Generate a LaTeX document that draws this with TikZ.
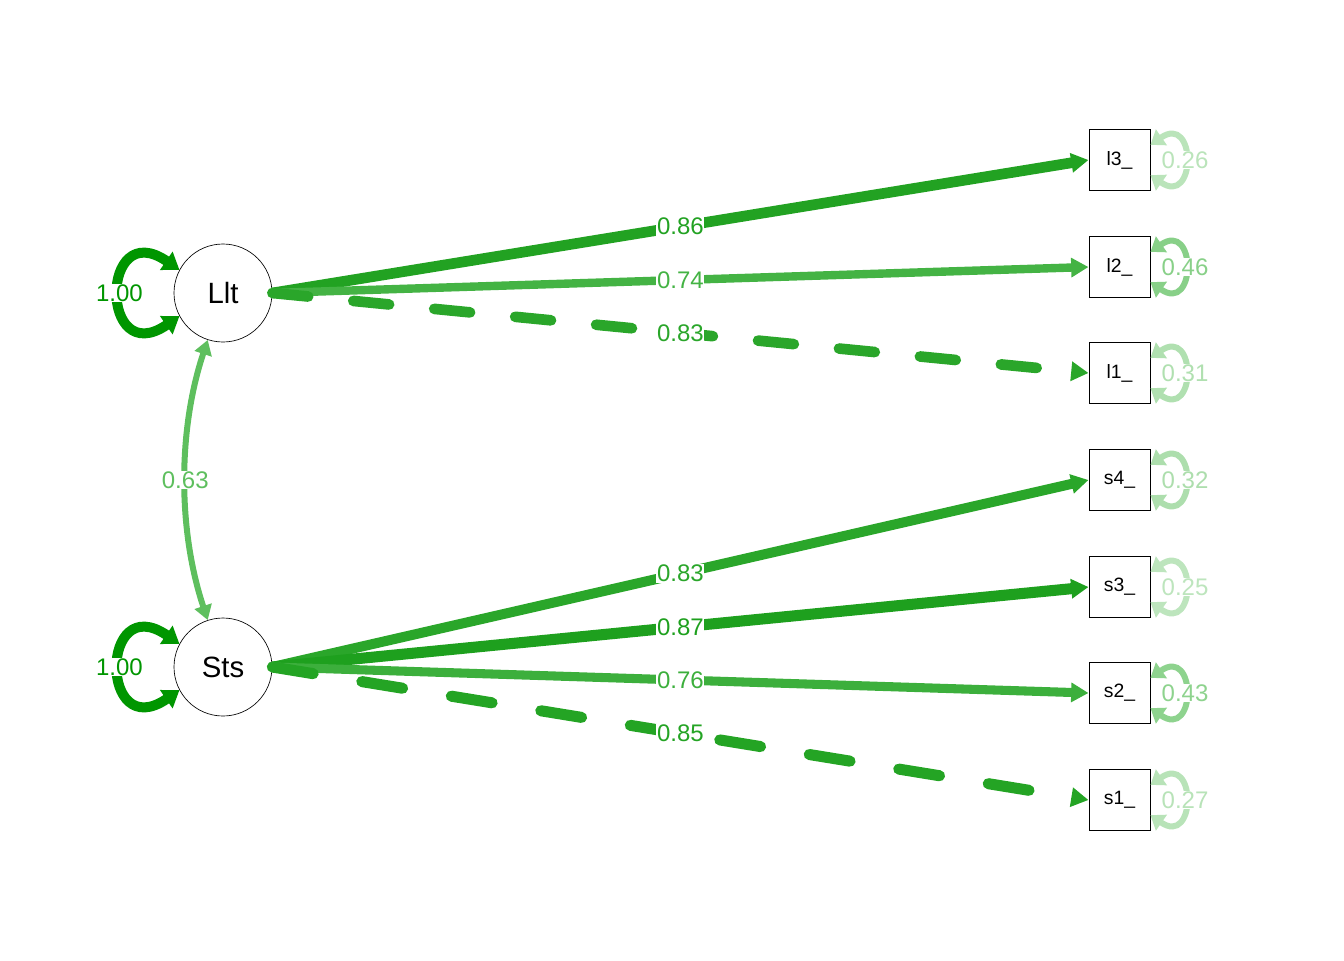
\documentclass[tikz,border=0pt]{standalone}
\usepackage{fontspec}
\setmainfont{Liberation Sans}
\usetikzlibrary{arrows.meta,positioning}

\definecolor{c100}{RGB}{0,150,0}
\definecolor{c87}{RGB}{30,160,30}
\definecolor{c86}{RGB}{34,162,34}
\definecolor{c85}{RGB}{36,164,36}
\definecolor{c83}{RGB}{42,166,42}
\definecolor{c76}{RGB}{60,175,60}
\definecolor{c74}{RGB}{68,179,68}
\definecolor{c63}{RGB}{94,191,94}
\definecolor{c46}{RGB}{136,208,136}
\definecolor{c43}{RGB}{142,211,142}
\definecolor{c32}{RGB}{173,222,173}
\definecolor{c31}{RGB}{176,224,176}
\definecolor{c27}{RGB}{184,227,184}
\definecolor{c26}{RGB}{186,228,186}
\definecolor{c25}{RGB}{189,229,189}

\tikzset{
  lat/.style={draw, circle, line width=0.5pt, minimum size=73.5pt, inner sep=0pt, font=\fontsize{22}{24}\selectfont},
  man/.style={draw, line width=0.75pt, minimum size=45.75pt, inner sep=0pt, font=\fontsize{14.5}{16}\selectfont},
  load/.style={-{Triangle[length=13pt,width=14pt]}},
  dashload/.style={load, line cap=round},
  varloop/.style={{Triangle[length=12pt,width=16pt]}-{Triangle[length=12pt,width=16pt]}, line width=7.5pt},
  resloop/.style={{Triangle[length=10pt,width=14pt]}-{Triangle[length=10pt,width=14pt]}, line width=4.5pt},
  covar/.style={{Triangle[length=11pt,width=13pt]}-{Triangle[length=11pt,width=13pt]}, line width=4.5pt},
  lab/.style={fill=white, inner sep=0.5pt, font=\fontsize{18}{20}\selectfont}
}

\begin{document}
\begin{tikzpicture}[x=0.75pt, y=-0.75pt]
\useasboundingbox (0,0) rectangle (1344,960);

% latent variables
\node[lat] (Llt) at (223,293) {Llt};
\node[lat] (Sts) at (223,667) {Sts};

% indicators
\node[man] (l3) at (1119.5,160) {l3\_};
\node[man] (l2) at (1119.5,267) {l2\_};
\node[man] (l1) at (1119.5,373) {l1\_};
\node[man] (s4) at (1119.5,480) {s4\_};
\node[man] (s3) at (1119.5,587) {s3\_};
\node[man] (s2) at (1119.5,693) {s2\_};
\node[man] (s1) at (1119.5,800) {s1\_};

% loadings
\draw[load, c86, line width=8pt] (Llt.east) -- node[lab, text=c86]{0.86} (l3.west);
\draw[load, c74, line width=6.3pt] (Llt.east) -- node[lab, text=c74]{0.74} (l2.west);
\draw[dashload, c83, line width=8pt, dash pattern=on 27pt off 34pt] (Llt.east) -- node[lab, text=c83]{0.83} (l1.west);
\draw[load, c83, line width=7.5pt] (Sts.east) -- node[lab, text=c83]{0.83} (s4.west);
\draw[load, c87, line width=8.3pt] (Sts.east) -- node[lab, text=c87]{0.87} (s3.west);
\draw[load, c76, line width=6.8pt] (Sts.east) -- node[lab, text=c76]{0.76} (s2.west);
\draw[dashload, c85, line width=8.3pt, dash pattern=on 31pt off 37pt] (Sts.east) -- node[lab, text=c85]{0.85} (s1.west);

% covariance
\draw[covar, c63] (Llt.252) .. controls +(-30,90) and +(-30,-90) .. node[lab, text=c63]{0.63} (Sts.108);

% variances
\draw[varloop, c100] (Llt.152) .. controls +(-80,-55) and +(-80,55) .. node[lab, text=c100]{1.00} (Llt.208);
\draw[varloop, c100] (Sts.152) .. controls +(-80,-55) and +(-80,55) .. node[lab, text=c100]{1.00} (Sts.208);

% residuals
\draw[resloop, c26] (l3.26) .. controls +(46,-32) and +(46,32) .. node[lab, text=c26]{0.26} (l3.-26);
\draw[resloop, c46] (l2.26) .. controls +(46,-32) and +(46,32) .. node[lab, text=c46]{0.46} (l2.-26);
\draw[resloop, c31] (l1.26) .. controls +(46,-32) and +(46,32) .. node[lab, text=c31]{0.31} (l1.-26);
\draw[resloop, c32] (s4.26) .. controls +(46,-32) and +(46,32) .. node[lab, text=c32]{0.32} (s4.-26);
\draw[resloop, c25] (s3.26) .. controls +(46,-32) and +(46,32) .. node[lab, text=c25]{0.25} (s3.-26);
\draw[resloop, c43] (s2.26) .. controls +(46,-32) and +(46,32) .. node[lab, text=c43]{0.43} (s2.-26);
\draw[resloop, c27] (s1.26) .. controls +(46,-32) and +(46,32) .. node[lab, text=c27]{0.27} (s1.-26);
\end{tikzpicture}
\end{document}
